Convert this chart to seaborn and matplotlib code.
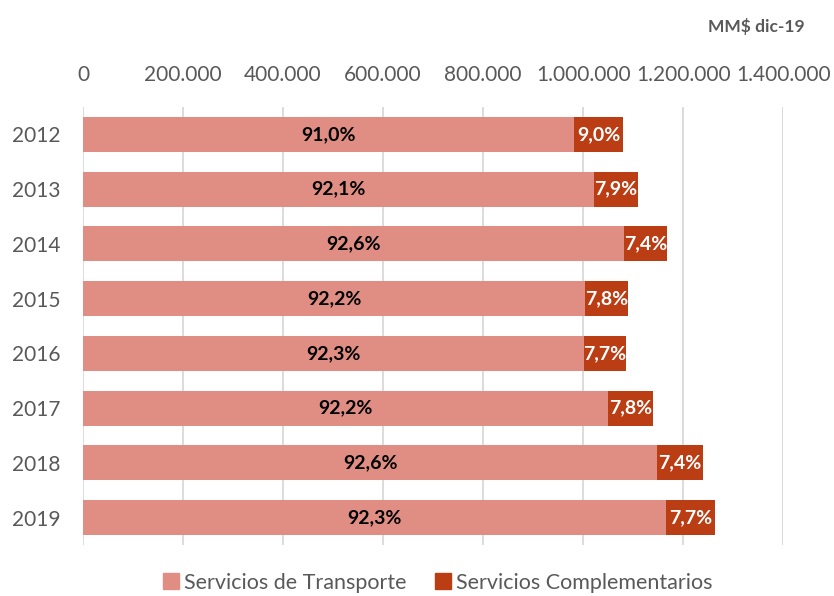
import matplotlib
matplotlib.use("Agg")
import matplotlib.pyplot as plt
import seaborn as sns
import pandas as pd
import numpy as np
from matplotlib.ticker import FuncFormatter
from matplotlib.patches import Patch

years = ["2012", "2013", "2014", "2015", "2016", "2017", "2018", "2019"]
transporte = [982000, 1022000, 1082000, 1004000, 1002000, 1050000, 1148000, 1166000]
complementarios = [97400, 87400, 86000, 85000, 84000, 89000, 92000, 97000]
pct_transporte = ["91,0%", "92,1%", "92,6%", "92,2%", "92,3%", "92,2%", "92,6%", "92,3%"]
pct_complementarios = ["9,0%", "7,9%", "7,4%", "7,8%", "7,7%", "7,8%", "7,4%", "7,7%"]
ticks = [0, 200000, 400000, 600000, 800000, 1000000, 1200000, 1400000]

c_trans = "#E08E84"
c_comp = "#BA3D14"
grey = "#595959"

sns.set_theme(style="white")
plt.rcParams["font.family"] = ["Lato", "DejaVu Sans"]

df = pd.DataFrame({"year": years, "trans": transporte, "comp": complementarios})
df["total"] = df["trans"] + df["comp"]

fig = plt.figure(figsize=(8.34, 5.96), dpi=100)
ax = fig.add_axes([0.0995, 0.0856, 0.8395, 0.7349])

sns.barplot(data=df, y="year", x="total", color=c_comp, orient="h", width=0.64,
            ax=ax, saturation=1, linewidth=0)
sns.barplot(data=df, y="year", x="trans", color=c_trans, orient="h", width=0.64,
            ax=ax, saturation=1, linewidth=0)

for i in range(len(years)):
    t = transporte[i]
    c = complementarios[i]
    ax.text(t / 2, i, pct_transporte[i], ha="center", va="center",
            fontsize=14, fontweight="bold", color="black")
    ax.text(t + c / 2, i, pct_complementarios[i], ha="center", va="center",
            fontsize=14, fontweight="bold", color="white")

ax.set_xlim(0, 1400000)
ax.set_xticks(ticks)
ax.xaxis.set_major_formatter(FuncFormatter(lambda v, p: f"{int(v):,}".replace(",", ".")))
ax.xaxis.tick_top()
ax.tick_params(axis="x", labelsize=15, colors=grey, length=0, pad=16)
ax.tick_params(axis="y", labelsize=15, colors=grey, length=0, pad=16)
ax.set_xlabel("")
ax.set_ylabel("")
ax.grid(axis="x", color="#D9D9D9", linewidth=1.3)
ax.set_axisbelow(True)
for s in ax.spines.values():
    s.set_visible(False)

fig.text(0.965, 0.955, "MM$ dic-19", ha="right", va="center", fontsize=12.5,
         fontweight="bold", color=grey)

handles = [Patch(color=c_trans, label="Servicios de Transporte"),
           Patch(color=c_comp, label="Servicios Complementarios")]
leg = fig.legend(handles=handles, loc="center", bbox_to_anchor=(0.525, 0.022), ncol=2,
                 frameon=False, fontsize=15.5, handlelength=0.75, handleheight=0.75,
                 handletextpad=0.25, columnspacing=1.3)
for t in leg.get_texts():
    t.set_color(grey)

fig.savefig("out.png", dpi=100)
